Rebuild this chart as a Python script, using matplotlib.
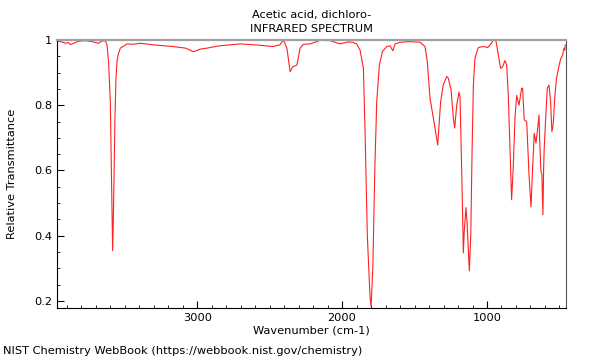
import matplotlib
matplotlib.use("Agg")
import matplotlib.pyplot as plt
from matplotlib.ticker import MultipleLocator, FuncFormatter

titulo = "Acetic acid, dichloro-"
subtitulo = "INFRARED SPECTRUM"
rodape = "NIST Chemistry WebBook (https://webbook.nist.gov/chemistry)"

numero_onda = [
    3966, 3950, 3933, 3910, 3888, 3876, 3853, 3821, 3773, 3726, 3681, 3657,
    3634, 3623, 3612, 3600, 3593, 3586, 3584, 3577, 3568, 3561, 3554, 3546,
    3531, 3485, 3440, 3393, 3300, 3166, 3080, 3026, 2980, 2933, 2850, 2703,
    2600, 2476, 2430, 2405, 2381, 2359, 2340, 2312, 2290, 2267, 2221, 2152,
    2083, 2014, 1960, 1924, 1900, 1876, 1853, 1841, 1826, 1807, 1800, 1788,
    1774, 1761, 1743, 1722, 1692, 1669, 1650, 1634, 1600, 1543, 1490, 1462,
    1428, 1412, 1393, 1370, 1340, 1320, 1302, 1278, 1267, 1248, 1232, 1223,
    1209, 1193, 1186, 1174, 1163, 1157, 1145, 1138, 1122, 1112, 1103, 1094,
    1083, 1060, 1026, 995, 974, 957, 938, 922, 906, 892, 876, 864,
    853, 841, 830, 819, 807, 795, 779, 761, 754, 743, 726, 710,
    696, 685, 674, 662, 650, 641, 635, 628, 621, 614, 609, 605,
    595, 584, 572, 561, 552, 543, 531, 520, 502, 490, 478, 469,
    463, 460,
]
transmitancia = [
    0.997, 0.995, 0.994, 0.990, 0.992, 0.986, 0.990, 0.996, 0.998, 0.995, 0.990, 0.997,
    0.997, 0.985, 0.934, 0.810, 0.608, 0.400, 0.354, 0.505, 0.760, 0.880, 0.934, 0.955,
    0.975, 0.988, 0.987, 0.990, 0.985, 0.980, 0.975, 0.964, 0.972, 0.975, 0.982, 0.988,
    0.985, 0.980, 0.985, 1.000, 0.975, 0.903, 0.918, 0.923, 0.975, 0.987, 0.988, 0.999,
    0.998, 0.988, 0.994, 0.993, 0.988, 0.969, 0.913, 0.709, 0.400, 0.209, 0.183, 0.300,
    0.608, 0.811, 0.923, 0.964, 0.980, 0.982, 0.967, 0.988, 0.993, 0.995, 0.994, 0.993,
    0.980, 0.934, 0.820, 0.760, 0.678, 0.811, 0.862, 0.888, 0.883, 0.847, 0.760, 0.730,
    0.800, 0.840, 0.826, 0.587, 0.347, 0.413, 0.486, 0.443, 0.292, 0.400, 0.658, 0.862,
    0.944, 0.977, 0.980, 0.977, 0.987, 1.000, 0.997, 0.954, 0.913, 0.918, 0.937, 0.923,
    0.830, 0.658, 0.510, 0.607, 0.760, 0.830, 0.800, 0.852, 0.852, 0.755, 0.750, 0.587,
    0.488, 0.607, 0.714, 0.684, 0.730, 0.770, 0.678, 0.597, 0.590, 0.464, 0.607, 0.668,
    0.760, 0.852, 0.862, 0.811, 0.719, 0.740, 0.832, 0.883, 0.923, 0.944, 0.954, 0.975,
    0.969, 0.985,
]

fig = plt.figure(figsize=(6, 3.6), dpi=100)
ax = fig.add_axes([0.095, 0.1444, 0.848, 0.7445])

ax.plot(numero_onda, transmitancia, color="#ff2020", linewidth=0.8)

ax.set_xlim(3968, 456)
ax.set_ylim(0.178, 1.0)

ax.xaxis.set_major_locator(MultipleLocator(1000))
ax.xaxis.set_minor_locator(MultipleLocator(100))
ax.yaxis.set_major_locator(MultipleLocator(0.2))
ax.yaxis.set_minor_locator(MultipleLocator(0.05))
ax.yaxis.set_major_formatter(FuncFormatter(lambda v, p: f"{v:g}"))

ax.tick_params(which="both", direction="in", top=False, right=False,
               labelsize=8.2)
ax.tick_params(which="major", length=5)
ax.tick_params(which="minor", length=2.5)

ax.spines["top"].set_color("#a0a0a0")
ax.spines["top"].set_linewidth(1.6)
ax.spines["right"].set_color("#555555")

ax.set_xlabel("Wavenumber (cm-1)", fontsize=8.2, labelpad=2)
ax.set_ylabel("Relative Transmittance", fontsize=8.2, labelpad=12)
ax.set_title(f"{titulo}\n{subtitulo}", fontsize=8.2, pad=6, linespacing=1.5)

fig.text(0.005, 0.01, rodape, fontsize=8.2, ha="left", va="bottom")

fig.savefig("out.png", dpi=100)
